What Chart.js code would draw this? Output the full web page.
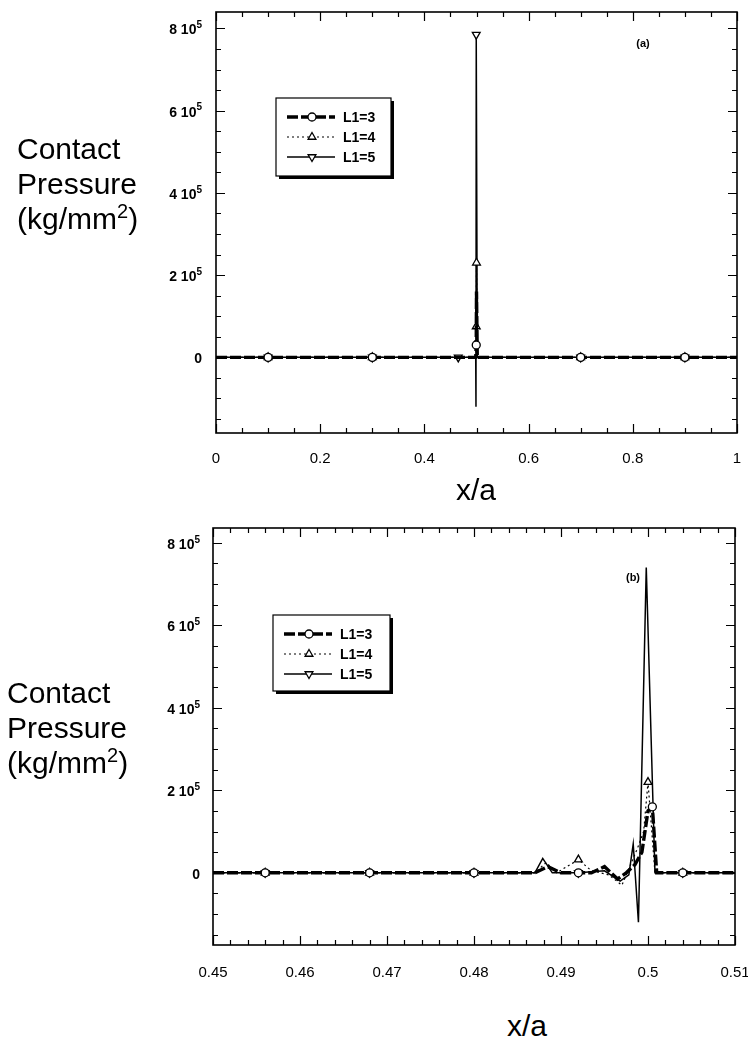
<!DOCTYPE html>
<html>
<head>
<meta charset="utf-8">
<script src="https://cdn.jsdelivr.net/npm/chart.js@4.4.1/dist/chart.umd.min.js"></script>
<style>
  body { margin: 0; background: #fff; width: 748px; height: 1041px; position: relative; overflow: hidden;
         font-family: "Liberation Sans", Arial, sans-serif; color: #000; }
  .box { position: absolute; left: 0; width: 748px; }
  .ytitle { position: absolute; font-size: 30px; line-height: 35px; }
  .ytitle sup { font-size: 20px; line-height: 0; vertical-align: 11px; }
  .xtitle { position: absolute; font-size: 30px; line-height: 35px; transform: translateX(-50%); }
</style>
</head>
<body>
<div class="box" id="boxA" style="top:0;height:470px"><canvas id="chartA"></canvas></div>
<div class="box" id="boxB" style="top:500px;height:490px"><canvas id="chartB"></canvas></div>

<div class="ytitle" style="left:17px;top:131px">Contact<br>Pressure<br>(kg/mm<sup>2</sup>)</div>
<div class="ytitle" style="left:7px;top:675px">Contact<br>Pressure<br>(kg/mm<sup>2</sup>)</div>
<div class="xtitle" style="left:476px;top:472px">x/a</div>
<div class="xtitle" style="left:527px;top:1008px">x/a</div>

<script>
// ---- data: panel (a), full range ----
const seriesNames = ['L1=3', 'L1=4', 'L1=5'];

const xA3 = [0, 0.1, 0.3, 0.47, 0.4985, 0.4995, 0.5, 0.5015, 0.7, 0.9, 1];
const yA3 = [0, 0, 0, 0, 0, 30000, 160000, 0, 0, 0, 0];
const xA4 = [0, 0.1, 0.3, 0.47, 0.499, 0.4995, 0.5, 0.5015, 0.7, 0.9, 1];
const yA4 = [0, 0, 0, 0, 0, 75000, 230000, 0, 0, 0, 0];
const xA5 = [0, 0.1, 0.3, 0.465, 0.4985, 0.499, 0.4995, 0.5015, 0.7, 0.9, 1];
const yA5 = [0, 0, 0, 0, 0, -120000, 785000, 0, 0, 0, 0];
// x positions that carry a symbol
const markA3 = [0.1, 0.3, 0.4995, 0.7, 0.9];
const markA4 = [0.1, 0.3, 0.4995, 0.5, 0.7, 0.9];
const markA5 = [0.1, 0.3, 0.465, 0.4995, 0.7, 0.9];

// ---- data: panel (b), zoom near x/a = 0.5 ----
const xB3 = [0.45, 0.456, 0.468, 0.48, 0.487, 0.4885, 0.490, 0.492, 0.4935, 0.495, 0.4965, 0.4975, 0.4985, 0.4993, 0.5, 0.5005, 0.501, 0.504, 0.51];
const yB3 = [0, 0, 0, 0, 0, 15000, 0, 0, 0, 15000, -15000, 0, 20000, 50000, 150000, 160000, 0, 0, 0];
const xB4 = [0.45, 0.456, 0.468, 0.48, 0.487, 0.4883, 0.4895, 0.492, 0.4935, 0.4955, 0.497, 0.498, 0.4988, 0.4995, 0.5, 0.5008, 0.504, 0.51];
const yB4 = [0, 0, 0, 0, 0, 25000, 0, 32000, 5000, -5000, -30000, 20000, 60000, 100000, 220000, 0, 0, 0];
const xB5 = [0.45, 0.456, 0.468, 0.48, 0.487, 0.4879, 0.489, 0.492, 0.495, 0.4968, 0.4978, 0.4983, 0.4989, 0.4998, 0.5008, 0.504, 0.51];
const yB5 = [0, 0, 0, 0, 0, 35000, 0, 0, 5000, -20000, -5000, 70000, -120000, 740000, 0, 0, 0];
const markB3 = [0.456, 0.468, 0.48, 0.492, 0.504, 0.5005];
const markB4 = [0.456, 0.468, 0.48, 0.492, 0.504, 0.5];
const markB5 = [0.456, 0.468, 0.48, 0.492, 0.504];

// ---- axis ticks ----
const xTicksA = [0, 0.2, 0.4, 0.6, 0.8, 1];
const xTicksB = [0.45, 0.46, 0.47, 0.48, 0.49, 0.5, 0.51];
const yTicks = [0, 200000, 400000, 600000, 800000];

const styles = [
  { borderWidth: 3.4, borderDash: [11, 3], pointStyle: 'circle', pointRotation: 0, radius: 4 },
  { borderWidth: 1.2, borderDash: [2, 3], pointStyle: 'triangle', pointRotation: 0, radius: 4.5 },
  { borderWidth: 1.5, borderDash: [], pointStyle: 'triangle', pointRotation: 180, radius: 4.5 }
];

function makeSets(xs, ys, marks) {
  return xs.map((xv, s) => {
    const st = styles[s];
    return {
      label: seriesNames[s],
      data: xv.map((v, i) => ({ x: v, y: ys[s][i] })),
      borderColor: '#000',
      borderWidth: st.borderWidth,
      borderDash: st.borderDash,
      tension: 0,
      pointStyle: st.pointStyle,
      pointRotation: st.pointRotation,
      pointRadius: xv.map(v => marks[s].includes(v) ? st.radius : 0),
      pointBackgroundColor: '#fff',
      pointBorderColor: '#000',
      pointBorderWidth: 1.3
    };
  });
}

function range(a, b, step) {
  const out = [];
  const n = Math.round((b - a) / step);
  for (let i = 0; i <= n; i++) out.push(+(a + i * step).toFixed(6));
  return out;
}

// frame with inward major/minor ticks on all four sides, y labels "n 10^5"
const frameTicks = {
  id: 'frameTicks',
  afterDatasetsDraw(chart, args, o) {
    const { ctx, chartArea: a, scales: { x, y } } = chart;
    ctx.save();
    ctx.strokeStyle = '#000';
    ctx.lineWidth = 1.2;
    ctx.beginPath();
    const isMajor = (v, list) => list.some(m => Math.abs(m - v) < 1e-9);
    for (const v of range(o.xMin, o.xMax, o.xStep)) {
      const px = Math.round(x.getPixelForValue(v)) + 0.5;
      const len = isMajor(v, o.xMajor) ? 9 : 5;
      ctx.moveTo(px, a.bottom); ctx.lineTo(px, a.bottom - len);
      ctx.moveTo(px, a.top); ctx.lineTo(px, a.top + len);
    }
    for (const v of range(o.yMin, o.yMax, o.yStep)) {
      const py = Math.round(y.getPixelForValue(v)) + 0.5;
      const len = isMajor(v, yTicks) ? 9 : 5;
      ctx.moveTo(a.left, py); ctx.lineTo(a.left + len, py);
      ctx.moveTo(a.right, py); ctx.lineTo(a.right - len, py);
    }
    ctx.stroke();
    ctx.lineWidth = 1.6;
    ctx.strokeRect(a.left, a.top, a.right - a.left, a.bottom - a.top);

    ctx.fillStyle = '#000';
    ctx.textBaseline = 'middle';
    ctx.textAlign = 'right';
    const right = a.left - o.yPad;
    for (const v of yTicks) {
      const py = y.getPixelForValue(v) + 2;
      if (v === 0) {
        ctx.font = 'bold 14px "Liberation Sans", Arial';
        ctx.fillText('0', right, py);
        continue;
      }
      ctx.font = 'bold 10px "Liberation Sans", Arial';
      const sw = ctx.measureText('5').width;
      ctx.fillText('5', right, py - 5);
      ctx.font = 'bold 14px "Liberation Sans", Arial';
      ctx.fillText((v / 100000) + ' 10', right - sw, py);
    }

    // panel tag
    ctx.font = 'bold 11px "Liberation Sans", Arial';
    ctx.textAlign = 'center';
    ctx.fillText(o.tag, o.tagX, o.tagY);
    ctx.restore();
  }
};

// boxed legend with drop shadow
const boxLegend = {
  id: 'boxLegend',
  afterDraw(chart, args, o) {
    const { ctx } = chart;
    const b = o.box;
    ctx.save();
    ctx.fillStyle = '#000';
    ctx.fillRect(b.x + 3, b.y + 3, b.w, b.h);
    ctx.fillStyle = '#fff';
    ctx.fillRect(b.x, b.y, b.w, b.h);
    ctx.strokeStyle = '#000';
    ctx.lineWidth = 1.2;
    ctx.strokeRect(b.x, b.y, b.w, b.h);
    chart.data.datasets.forEach((ds, i) => {
      const cy = b.y + 19 + i * 20;
      ctx.strokeStyle = '#000';
      ctx.lineWidth = ds.borderWidth;
      ctx.setLineDash(ds.borderDash);
      ctx.beginPath();
      ctx.moveTo(b.x + 11, cy); ctx.lineTo(b.x + 59, cy);
      ctx.stroke();
      ctx.setLineDash([]);
      ctx.fillStyle = '#fff';
      ctx.lineWidth = 1.3;
      Chart.helpers.drawPoint(ctx, {
        pointStyle: ds.pointStyle, rotation: ds.pointRotation,
        radius: styles[i].radius, borderWidth: 1.3
      }, b.x + 36, cy);
      ctx.fillStyle = '#000';
      ctx.font = 'bold 14px "Liberation Sans", Arial';
      ctx.textAlign = 'left';
      ctx.textBaseline = 'middle';
      ctx.fillText(ds.label, b.x + 67, cy + 1);
    });
    ctx.restore();
  }
};

function noPad(s) {
  s.paddingLeft = 0; s.paddingRight = 0; s.paddingTop = 0; s.paddingBottom = 0;
}

function makeChart(id, opt) {
  return new Chart(document.getElementById(id), {
    type: 'line',
    data: { datasets: opt.sets },
    plugins: [frameTicks, boxLegend],
    options: {
      responsive: true,
      maintainAspectRatio: false,
      animation: false,
      events: [],
      layout: { padding: { top: opt.padTop, right: opt.padRight, left: 0, bottom: 0 } },
      plugins: {
        legend: { display: false },
        tooltip: { enabled: false },
        frameTicks: opt.frame,
        boxLegend: { box: opt.legendBox }
      },
      scales: {
        x: {
          type: 'linear',
          min: opt.xMin, max: opt.xMax,
          grid: { display: false, drawTicks: false },
          border: { display: false },
          afterBuildTicks: s => { s.ticks = opt.xTicks.map(v => ({ value: v })); },
          afterFit: s => { s.height = opt.xHeight; noPad(s); },
          ticks: {
            padding: opt.xPad,
            color: '#000',
            maxRotation: 0,
            autoSkip: false,
            font: { size: 15, family: '"Liberation Sans", Arial' },
            callback: v => String(v)
          }
        },
        y: {
          type: 'linear',
          min: opt.yMin, max: opt.yMax,
          grid: { display: false, drawTicks: false },
          border: { display: false },
          afterBuildTicks: s => { s.ticks = yTicks.map(v => ({ value: v })); },
          afterFit: s => { s.width = opt.yWidth; noPad(s); },
          ticks: { display: false }
        }
      }
    }
  });
}

makeChart('chartA', {
  sets: makeSets([xA3, xA4, xA5], [yA3, yA4, yA5], [markA3, markA4, markA5]),
  xMin: 0, xMax: 1, yMin: -184000, yMax: 840000,
  xTicks: xTicksA, xPad: 17,
  padTop: 12, padRight: 11, xHeight: 37, yWidth: 216,
  legendBox: { x: 276, y: 98, w: 115, h: 78 },
  frame: { xMin: 0, xMax: 1, xStep: 0.05, xMajor: xTicksA, yMin: -150000, yMax: 800000, yStep: 50000,
           yPad: 14, tag: '(a)', tagX: 643, tagY: 44 }
});

makeChart('chartB', {
  sets: makeSets([xB3, xB4, xB5], [yB3, yB4, yB5], [markB3, markB4, markB5]),
  xMin: 0.45, xMax: 0.51, yMin: -175000, yMax: 836000,
  xTicks: xTicksB, xPad: 19,
  padTop: 28, padRight: 13, xHeight: 45, yWidth: 213,
  legendBox: { x: 273, y: 115, w: 117, h: 76 },
  frame: { xMin: 0.45, xMax: 0.51, xStep: 0.002, xMajor: xTicksB, yMin: -150000, yMax: 800000, yStep: 50000,
           yPad: 13, tag: '(b)', tagX: 633, tagY: 78 }
});
</script>
</body>
</html>
